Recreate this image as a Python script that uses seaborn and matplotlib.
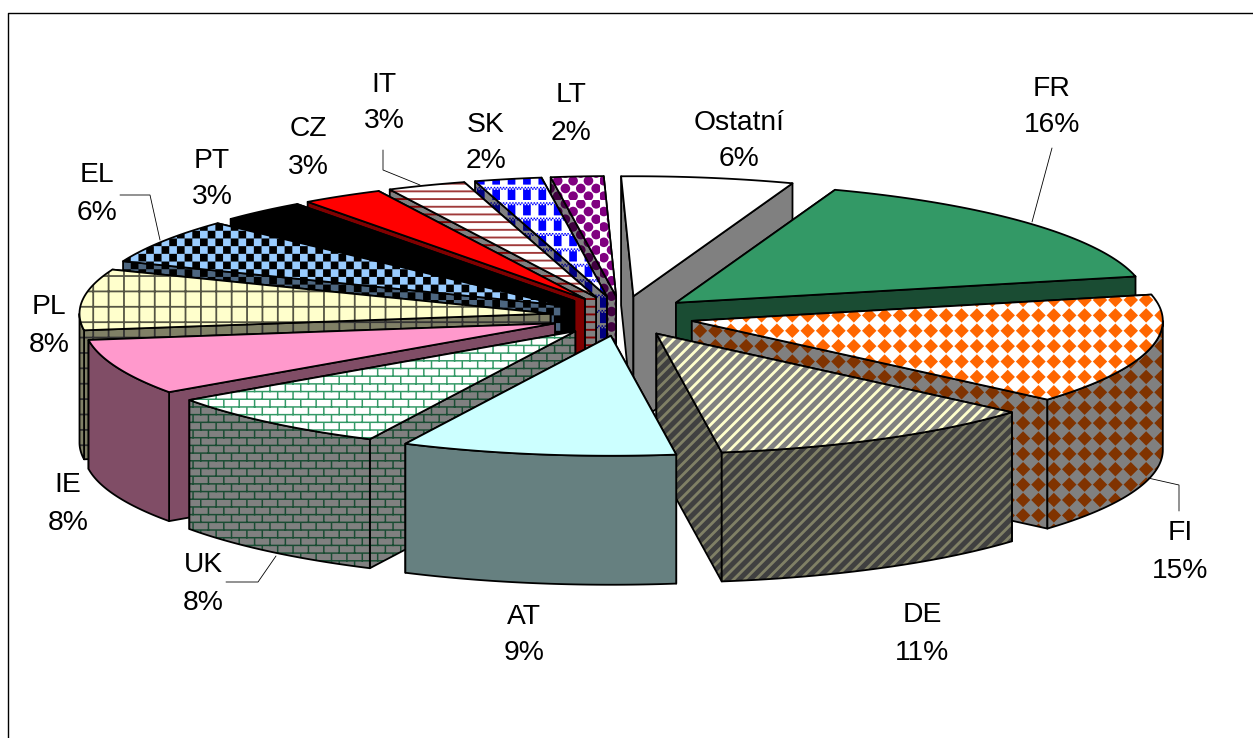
import warnings
import numpy as np
import matplotlib
matplotlib.use("Agg")
import matplotlib.pyplot as plt
import matplotlib.hatch as mhatch
from matplotlib.path import Path
from matplotlib.patches import Polygon
from matplotlib.lines import Line2D
import seaborn as sns

warnings.filterwarnings("ignore")

categories = ["Ostatní", "FR", "FI", "DE", "AT", "UK", "IE", "PL", "EL", "PT", "CZ", "IT", "SK", "LT"]
values = [5.9, 16.0, 14.9, 11.4, 9.4, 8.1, 7.5, 8.2, 6.0, 3.0, 2.8, 2.7, 2.3, 1.8]

top_base = ["#ffffff", "#339966", "#ffffff", "#808080", "#ccffff", "#ffffff", "#ff99cc", "#ffffcc",
            "#99ccff", "#000000", "#ff0000", "#ffffff", "#ffffff", "#ffffff"]
top_ink = ["#ffffff", "#339966", "#ff6600", "#ffffcc", "#ccffff", "#339966", "#ff99cc", "#555544",
           "#000000", "#000000", "#ff0000", "#a03a3a", "#0000ff", "#800080"]
side_base = ["#808080", "#1a4c33", "#808080", "#404040", "#668080", "#808080", "#804d66", "#808066",
             "#4d6680", "#000000", "#800000", "#808080", "#808080", "#808080"]
side_ink = ["#808080", "#1a4c33", "#803300", "#808066", "#668080", "#1a4c33", "#804d66", "#333333",
            "#000000", "#000000", "#800000", "#800000", "#000080", "#400040"]
patterns = ["", "", "D", "R", "", "B", "", "G", "C", "", "", "H", "S", "L"]

label_xy = [(739, 141), (1052, 107), (1180, 552), (922, 634), (524, 635), (203, 584), (68, 504),
            (49, 326), (97, 194), (212, 179), (308, 148), (384, 103), (486, 143), (571, 114)]
leaders = [[(1032, 222), (1052, 148)],
           [(1148, 478), (1179, 485), (1179, 511)],
           [(276, 556), (258, 582), (226, 582)],
           [(160, 240), (150, 195), (120, 195)],
           [(420, 185), (383, 170), (383, 150)]]

CX, CY, RX, RY, EX, EY, DEPTH = 622, 316, 471, 120, 72, 20, 129
START_DEG = -1.5
N = 13


def rect(x0, y0, x1, y1):
    return Path([(x0, y0), (x1, y0), (x1, y1), (x0, y1), (x0, y0)],
                [Path.MOVETO, Path.LINETO, Path.LINETO, Path.LINETO, Path.CLOSEPOLY])


def poly(pts):
    pts = list(pts) + [pts[0]]
    return Path(pts, [Path.MOVETO] + [Path.LINETO] * (len(pts) - 2) + [Path.CLOSEPOLY])


def diamonds():
    p = 1 / N
    r = 0.47 * p
    out = []
    for i in range(N):
        for j in range(N):
            cx, cy = (i + .5) * p, (j + .5) * p
            out.append(poly([(cx - r, cy), (cx, cy - r), (cx + r, cy), (cx, cy + r)]))
    return out


def stripes():
    n = 18
    w = 0.02
    out = []
    for i in range(-n, n + 1):
        x = i / n
        out.append(poly([(x, 0), (x + w, 0), (x + w + 1, 1), (x + 1, 1)]))
    return out


def bricks():
    rows = 2 * N
    t = 0.0075
    out = []
    for r in range(rows):
        y = r / rows
        out.append(rect(0, y, 1, y + t))
        off = 0 if r % 2 == 0 else .5
        for i in range(N):
            x = (i + off) / N
            out.append(rect(x, y, x + t, y + 1 / rows))
    return out


def checks():
    out = []
    for i in range(2 * N):
        for j in range(2 * N):
            if (i + j) % 2 == 0:
                out.append(rect(i / (2 * N), j / (2 * N), (i + 1) / (2 * N), (j + 1) / (2 * N)))
    return out


def grid():
    t = 0.009
    out = []
    for i in range(N):
        out.append(rect(i / N, 0, i / N + t, 1))
        out.append(rect(0, i / N, 1, i / N + t))
    return out


def hlines():
    rows = 2 * N
    t = 0.0095
    return [rect(0, r / rows, 1, r / rows + t) for r in range(rows)]


def plaid():
    p = 1 / N
    d = 0.0075
    out = []
    for i in range(N):
        for j in range(N):
            x, y = i * p, j * p
            out.append(rect(x, y, x + p / 2, y + 0.66 * p))
            for a in range(5):
                for b in range(2):
                    px = x + a * 2 * d + (b % 2) * d
                    py = y + 0.66 * p + b * d
                    out.append(rect(px, py, px + d, py + d))
    return out


def discs():
    rows = 2 * N
    out = []
    for r in range(rows):
        off = 0.25 if r % 2 == 0 else 0.75
        for i in range(N):
            out.append(Path.circle(((i + off) / N, (r + .5) / rows), 0.024))
    return out


SHAPES = {"D": diamonds, "R": stripes, "B": bricks, "C": checks, "G": grid, "H": hlines, "S": plaid, "L": discs}


class TileHatch(mhatch.HatchPatternBase):
    def __init__(self, hatch, density):
        self.num_vertices = 0
        keys = [c for c in hatch if c in SHAPES]
        if keys:
            path = Path.make_compound_path(*SHAPES[keys[0]]())
            self.v, self.c = path.vertices, path.codes
            self.num_vertices = len(self.v)

    def set_vertices_and_codes(self, vertices, codes):
        vertices[:] = self.v
        codes[:] = self.c


mhatch._hatch_types.append(TileHatch)

sns.set_theme(style="white")
plt.rcParams["font.family"] = ["Liberation Sans", "DejaVu Sans"]
plt.rcParams["hatch.linewidth"] = 0.0

fig = plt.figure(figsize=(12.53 / 2, 7.38 / 2), dpi=200, facecolor="white")
ax = fig.add_axes([0, 0, 1, 1])
ax.set_xlim(0, 1253)
ax.set_ylim(738, 0)
ax.axis("off")

OUTLINE = 0.65
fractions = np.array(values) / sum(values)
edges = np.concatenate([[0], np.cumsum(fractions)]) * 2 * np.pi + np.radians(START_DEG)
order = sorted(range(len(values)), key=lambda k: -np.cos((edges[k] + edges[k + 1]) / 2))


def face(pts, base, ink, pat, z):
    if pat:
        ax.add_patch(Polygon(pts, closed=True, facecolor=base, edgecolor=ink, hatch=pat, lw=0, zorder=z))
    else:
        ax.add_patch(Polygon(pts, closed=True, facecolor=base, edgecolor="none", lw=0, zorder=z))
    ax.add_patch(Polygon(pts, closed=True, facecolor="none", edgecolor="black", lw=OUTLINE,
                         joinstyle="round", zorder=z + 0.1))


z = 2
for k in order:
    t0, t1 = edges[k], edges[k + 1]
    mid = (t0 + t1) / 2
    ox = CX + EX * np.sin(mid)
    oy = CY - EY * np.cos(mid)
    apex = np.array([ox, oy])
    th = np.linspace(t0, t1, 80)
    arc = np.column_stack([ox + RX * np.sin(th), oy - RY * np.cos(th)])
    down = np.array([0, DEPTH])
    sb, si = side_base[k], side_ink[k]
    pat = patterns[k]
    # radial cut faces, the one further back first so the hidden one never covers the visible one
    for end in sorted((arc[0], arc[-1]), key=lambda p: p[1]):
        face(np.array([apex, end, end + down, apex + down]), sb, si, pat, z)
        z += 1
    # outer rim, only the part turned towards the viewer
    lo, hi = max(t0, np.pi / 2), min(t1, 3 * np.pi / 2)
    if hi > lo:
        tr = np.linspace(lo, hi, 60)
        rim = np.column_stack([ox + RX * np.sin(tr), oy - RY * np.cos(tr)])
        face(np.vstack([rim, (rim + down)[::-1]]), sb, si, pat, z)
        z += 1
    face(np.vstack([apex, arc]), top_base[k], top_ink[k], pat, z)
    z += 1

for seg in leaders:
    xs, ys = zip(*seg)
    ax.add_line(Line2D(xs, ys, color="black", lw=0.3, zorder=z))

for name, v, (x, y) in zip(categories, values, label_xy):
    ax.text(x, y, f"{name}\n{v:.0f}%", ha="center", va="center", fontsize=10.2, color="black",
            linespacing=1.55, zorder=z + 1)

ax.add_line(Line2D([7.5, 7.5, 1253], [738, 12.5, 12.5], color="black", lw=0.5, zorder=z + 2))

fig.savefig("out.png", dpi=200, facecolor="white")
